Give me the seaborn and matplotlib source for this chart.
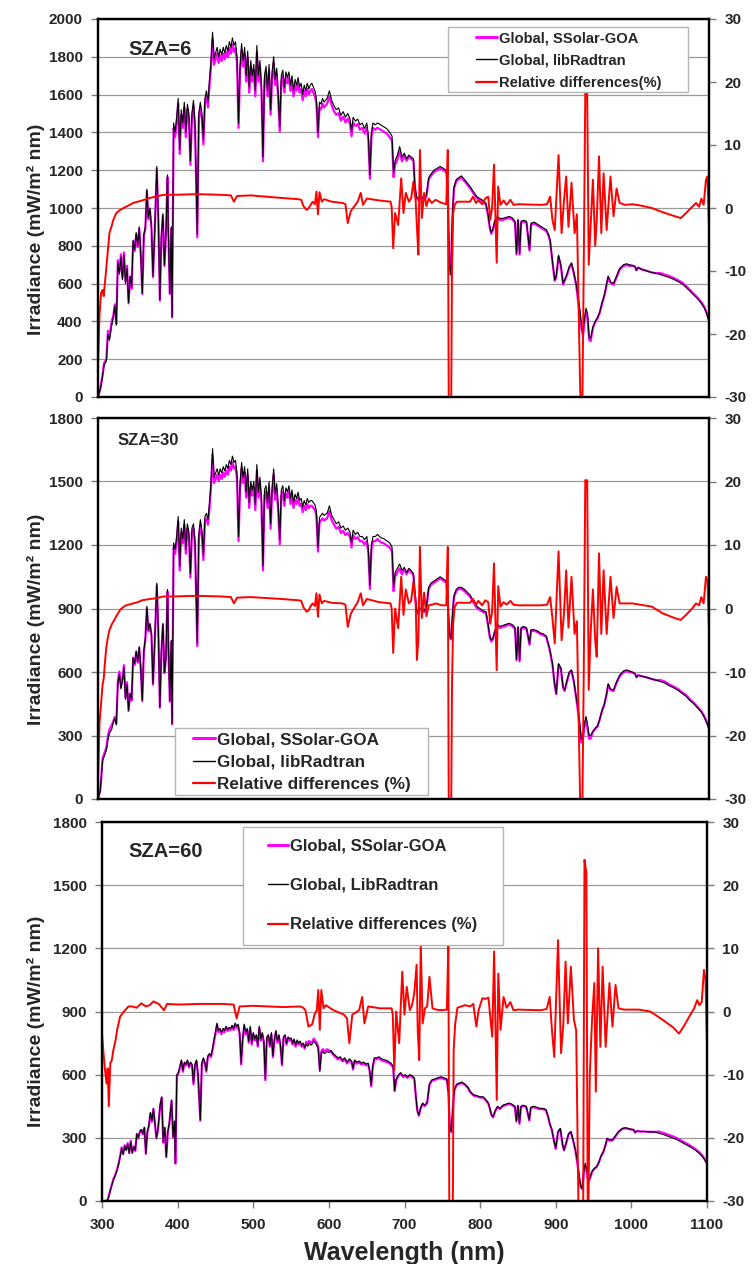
import numpy as np
import pandas as pd
import matplotlib
matplotlib.use("Agg")
import matplotlib.pyplot as plt
from matplotlib.lines import Line2D
from matplotlib.patches import Rectangle
import seaborn as sns

sns.set_style("white")
plt.rcParams["font.family"] = ["Liberation Sans", "DejaVu Sans"]
plt.rcParams["font.weight"] = "bold"
plt.rcParams["axes.unicode_minus"] = False

# ---------------- spectral grid for irradiance (nm) ----------------
wavelength = [
    300, 303, 306, 308, 311, 313, 315, 318, 320, 322,
    324, 326, 328, 330, 332, 334, 336, 338, 340, 342,
    344, 346, 348, 350, 352, 354, 356, 358, 360, 362,
    364, 366, 368, 370, 372, 374, 377, 379, 381, 383,
    385, 387, 389, 391, 392, 394, 396, 397, 399, 401,
    403, 405, 407, 409, 411, 413, 415, 417, 419, 421,
    423, 425, 427, 430, 432, 434, 436, 438, 440, 442,
    444, 446, 448, 450, 452, 454, 456, 458, 460, 462,
    464, 466, 468, 470, 472, 474, 476, 478, 480, 482,
    484, 486, 488, 490, 492, 494, 496, 498, 500, 502,
    504, 506, 508, 510, 512, 514, 516, 518, 520, 522,
    524, 526, 528, 530, 532, 534, 536, 538, 540, 542,
    544, 546, 548, 550, 552, 554, 556, 558, 560, 562,
    564, 566, 568, 570, 572, 574, 576, 578, 580, 582,
    584, 586, 588, 590, 592, 594, 596, 598, 600, 603,
    606, 609, 612, 615, 618, 621, 624, 627, 630, 632,
    634, 637, 640, 643, 646, 649, 652, 654, 656, 658,
    660, 663, 666, 670, 674, 678, 682, 685, 687, 689,
    692, 695, 698, 701, 704, 707, 710, 713, 715, 717,
    719, 721, 724, 727, 730, 733, 736, 740, 744, 748,
    752, 756, 758, 760, 762, 764, 766, 769, 772, 776,
    780, 784, 787, 791, 796, 800, 804, 808, 811, 813,
    815, 817, 820, 823, 826, 830, 834, 838, 842, 846,
    848, 850, 852, 854, 857, 861, 865, 867, 871, 875,
    879, 883, 887, 890, 892, 895, 898, 900, 903, 906,
    909, 911, 914, 917, 920, 923, 926, 929, 931, 933,
    935, 937, 939, 941, 943, 945, 948, 951, 954, 957,
    960, 963, 966, 968, 971, 975, 979, 983, 988, 992,
    996, 1000, 1003, 1005, 1007, 1012, 1018, 1024, 1030, 1036,
    1042, 1048, 1054, 1060, 1066, 1070, 1075, 1080, 1085, 1090,
    1094, 1097, 1100,
]

# ---------------- SZA = 6 ----------------
librad_sza6 = [
    0, 40, 110, 170, 190, 330, 300, 380, 420, 480,
    380, 710, 650, 740, 620, 750, 600, 680, 500, 640,
    580, 830, 780, 870, 800, 900, 760, 550, 860, 900,
    1100, 950, 1000, 900, 640, 850, 1220, 950, 515, 850,
    970, 700, 870, 1175, 900, 550, 900, 425, 1450, 1400,
    1480, 1580, 1310, 1520, 1450, 1560, 1400, 1550, 1500, 1250,
    1500, 1570, 1450, 860, 1500, 1560, 1500, 1360, 1580, 1620,
    1560, 1680, 1780, 1930, 1790, 1820, 1850, 1800, 1840, 1810,
    1850, 1820, 1860, 1830, 1880, 1850, 1900, 1860, 1880, 1800,
    1450, 1750, 1870, 1780, 1850, 1700, 1830, 1640, 1780, 1700,
    1760, 1620, 1860, 1700, 1780, 1650, 1270, 1700, 1750, 1620,
    1760, 1520, 1720, 1800, 1680, 1740, 1600, 1430, 1700, 1730,
    1640, 1720, 1690, 1720, 1650, 1700, 1620, 1680, 1650, 1690,
    1640, 1660, 1600, 1650, 1620, 1660, 1630, 1650, 1660, 1640,
    1620, 1580, 1400, 1560, 1550, 1580, 1560, 1570, 1580, 1620,
    1570, 1540, 1520, 1530, 1490, 1510, 1480, 1500, 1470, 1405,
    1480, 1460, 1470, 1440, 1450, 1420, 1450, 1380, 1175, 1400,
    1450, 1440, 1450, 1440, 1430, 1420, 1400, 1380, 1185, 1250,
    1280, 1325, 1270, 1290, 1260, 1280, 1270, 1260, 1115, 1060,
    1050, 1060, 1060, 1050, 1070, 1160, 1180, 1200, 1210, 1220,
    1210, 1200, 1100, 700, 650, 950, 1110, 1150, 1160, 1170,
    1150, 1130, 1115, 1090, 1060, 1050, 1040, 1025, 960, 900,
    870, 890, 940, 955, 945, 945, 950, 955, 950, 930,
    760, 940, 760, 930, 935, 930, 780, 920, 925, 915,
    905, 895, 885, 860, 830, 720, 620, 640, 750, 700,
    600, 620, 650, 690, 710, 660, 600, 520, 460, 380,
    340, 420, 470, 440, 320, 310, 370, 400, 420, 450,
    500, 540, 600, 640, 610, 600, 640, 680, 700, 705,
    700, 695, 690, 670, 685, 675, 668, 660, 655, 648,
    640, 632, 622, 610, 595, 580, 560, 540, 520, 495,
    470, 440, 400,
]
ssolar_sza6 = [
    0, 42, 117, 180, 201, 350, 318, 403, 428, 490,
    388, 724, 663, 755, 632, 765, 612, 694, 495, 634,
    574, 822, 772, 861, 792, 891, 752, 545, 851, 891,
    1089, 941, 990, 891, 634, 842, 1208, 941, 510, 842,
    960, 693, 861, 1163, 891, 545, 891, 421, 1424, 1375,
    1453, 1552, 1286, 1493, 1424, 1532, 1375, 1522, 1473, 1228,
    1473, 1542, 1424, 845, 1473, 1532, 1473, 1336, 1552, 1591,
    1532, 1650, 1748, 1895, 1758, 1787, 1817, 1768, 1807, 1777,
    1817, 1787, 1826, 1797, 1846, 1817, 1866, 1826, 1846, 1768,
    1424, 1719, 1836, 1748, 1817, 1669, 1797, 1610, 1748, 1669,
    1728, 1591, 1826, 1669, 1748, 1620, 1247, 1669, 1719, 1591,
    1728, 1493, 1689, 1768, 1650, 1709, 1571, 1404, 1669, 1699,
    1610, 1689, 1660, 1689, 1620, 1669, 1591, 1650, 1620, 1660,
    1610, 1630, 1571, 1620, 1591, 1630, 1601, 1620, 1630, 1610,
    1591, 1552, 1375, 1532, 1522, 1552, 1532, 1542, 1552, 1591,
    1542, 1512, 1493, 1502, 1463, 1483, 1453, 1473, 1444, 1380,
    1453, 1434, 1444, 1414, 1424, 1394, 1424, 1355, 1154, 1375,
    1424, 1414, 1424, 1414, 1404, 1394, 1375, 1355, 1164, 1228,
    1257, 1301, 1247, 1280, 1250, 1270, 1260, 1250, 1106, 1052,
    1042, 1052, 1052, 1042, 1061, 1151, 1171, 1190, 1200, 1210,
    1200, 1190, 1091, 694, 645, 942, 1101, 1141, 1151, 1161,
    1141, 1121, 1106, 1081, 1052, 1042, 1032, 1017, 952, 893,
    863, 883, 932, 947, 937, 937, 942, 947, 942, 923,
    754, 932, 754, 923, 928, 923, 774, 913, 918, 908,
    898, 888, 878, 853, 823, 714, 615, 634, 743, 693,
    594, 614, 644, 683, 703, 653, 594, 494, 437, 361,
    323, 399, 447, 418, 304, 295, 366, 396, 416, 446,
    495, 535, 594, 634, 604, 594, 634, 673, 693, 698,
    693, 695, 690, 670, 685, 675, 668, 660, 655, 656,
    648, 640, 629, 617, 602, 587, 567, 546, 526, 501,
    476, 445, 405,
]

# ---------------- SZA = 30 ----------------
librad_sza30 = [
    0, 40, 180, 200, 230, 280, 310, 330, 360, 380,
    350, 545, 590, 520, 560, 620, 470, 540, 420, 500,
    470, 670, 640, 700, 650, 720, 620, 467, 700, 760,
    910, 800, 830, 780, 545, 720, 1020, 800, 435, 700,
    830, 600, 670, 990, 760, 465, 750, 357, 1210, 1180,
    1240, 1335, 1100, 1280, 1230, 1320, 1180, 1300, 1260, 1065,
    1280, 1300, 1220, 735, 1250, 1320, 1270, 1150, 1335, 1350,
    1320, 1400, 1500, 1655, 1520, 1540, 1560, 1530, 1560, 1540,
    1570, 1550, 1580, 1560, 1600, 1580, 1620, 1590, 1600, 1540,
    1240, 1490, 1590, 1520, 1570, 1450, 1560, 1400, 1500, 1460,
    1500, 1390, 1580, 1450, 1520, 1420, 1100, 1460, 1480, 1400,
    1500, 1300, 1470, 1560, 1440, 1490, 1380, 1225, 1460, 1480,
    1410, 1470, 1450, 1480, 1420, 1460, 1400, 1440, 1420, 1450,
    1410, 1420, 1380, 1410, 1390, 1420, 1400, 1410, 1410, 1400,
    1390, 1360, 1190, 1330, 1340, 1350, 1340, 1345, 1350, 1385,
    1340, 1320, 1300, 1310, 1280, 1290, 1270, 1280, 1260, 1210,
    1270, 1250, 1260, 1240, 1240, 1225, 1240, 1180, 1010, 1200,
    1240, 1240, 1250, 1235, 1230, 1220, 1210, 1190, 1000, 1070,
    1090, 1110, 1080, 1095, 1070, 1090, 1080, 1065, 970, 900,
    880, 900, 905, 890, 910, 1000, 1020, 1030, 1040, 1050,
    1040, 1030, 950, 780, 760, 860, 960, 990, 1000, 1000,
    990, 975, 965, 940, 910, 900, 890, 885, 820, 770,
    750, 760, 800, 825, 815, 820, 825, 830, 825, 810,
    660, 815, 655, 810, 815, 810, 735, 800, 800, 795,
    785, 780, 770, 730, 700, 640, 540, 500, 640, 620,
    530, 515, 560, 600, 610, 560, 485, 420, 350, 280,
    300, 360, 390, 350, 300, 300, 320, 335, 345, 380,
    420, 450, 500, 545, 520, 515, 555, 585, 605, 610,
    605, 598, 592, 575, 585, 580, 575, 568, 562, 555,
    548, 535, 525, 512, 495, 485, 465, 450, 430, 410,
    385, 360, 330,
]
ssolar_sza30 = [
    0, 42, 191, 212, 244, 297, 329, 350, 367, 388,
    357, 556, 602, 530, 571, 632, 479, 551, 416, 495,
    465, 663, 634, 693, 644, 713, 614, 462, 693, 752,
    901, 792, 822, 772, 540, 713, 1010, 792, 431, 693,
    822, 594, 663, 980, 752, 460, 743, 353, 1188, 1159,
    1218, 1311, 1080, 1257, 1208, 1296, 1159, 1277, 1237, 1046,
    1257, 1277, 1198, 722, 1228, 1296, 1247, 1129, 1311, 1326,
    1296, 1375, 1473, 1625, 1493, 1512, 1532, 1502, 1532, 1512,
    1542, 1522, 1552, 1532, 1571, 1552, 1591, 1561, 1571, 1512,
    1218, 1463, 1561, 1493, 1542, 1424, 1532, 1375, 1473, 1434,
    1473, 1365, 1552, 1424, 1493, 1394, 1080, 1434, 1453, 1375,
    1473, 1277, 1444, 1532, 1414, 1463, 1355, 1203, 1434, 1453,
    1385, 1444, 1424, 1453, 1394, 1434, 1375, 1414, 1394, 1424,
    1385, 1394, 1355, 1385, 1365, 1394, 1375, 1385, 1385, 1375,
    1365, 1336, 1169, 1306, 1316, 1326, 1316, 1321, 1326, 1360,
    1316, 1296, 1277, 1286, 1257, 1267, 1247, 1257, 1237, 1188,
    1247, 1228, 1237, 1218, 1218, 1203, 1218, 1159, 992, 1178,
    1218, 1218, 1228, 1213, 1208, 1198, 1188, 1169, 982, 1051,
    1070, 1090, 1061, 1086, 1061, 1081, 1071, 1056, 962, 893,
    873, 893, 898, 883, 903, 992, 1012, 1022, 1032, 1042,
    1032, 1022, 942, 774, 754, 853, 952, 982, 992, 992,
    982, 967, 957, 932, 903, 893, 883, 878, 813, 764,
    744, 754, 794, 818, 808, 813, 818, 823, 818, 804,
    655, 808, 650, 804, 808, 804, 729, 794, 794, 789,
    779, 774, 764, 724, 694, 635, 536, 495, 634, 614,
    525, 510, 554, 594, 604, 554, 480, 399, 333, 266,
    285, 342, 371, 333, 285, 285, 317, 332, 342, 376,
    416, 446, 495, 540, 515, 510, 549, 579, 599, 604,
    599, 598, 592, 575, 585, 580, 575, 568, 562, 562,
    555, 541, 531, 518, 501, 491, 471, 455, 435, 415,
    390, 364, 334,
]

# ---------------- SZA = 60 ----------------
librad_sza60 = [
    0, 0, 0, 10, 50, 75, 100, 125, 147, 175,
    210, 250, 220, 260, 240, 270, 225, 280, 230, 260,
    240, 320, 300, 330, 340, 320, 350, 226, 330, 360,
    420, 380, 440, 370, 300, 340, 460, 495, 280, 350,
    210, 330, 370, 440, 480, 305, 380, 180, 600, 610,
    640, 670, 620, 660, 650, 670, 640, 660, 650, 560,
    650, 670, 600, 385, 655, 680, 660, 620, 690, 700,
    690, 720, 765, 800, 845, 810, 820, 800, 820, 810,
    830, 815, 825, 820, 835, 820, 845, 830, 840, 800,
    655, 770, 840, 800, 820, 760, 830, 750, 800, 770,
    790, 740, 830, 770, 800, 760, 580, 780, 790, 740,
    800, 690, 770, 810, 760, 790, 740, 650, 780, 790,
    750, 780, 770, 775, 750, 770, 740, 765, 750, 760,
    740, 750, 730, 745, 735, 750, 740, 745, 760, 750,
    740, 720, 615, 700, 710, 700, 705, 710, 705, 715,
    700, 690, 680, 685, 670, 680, 660, 675, 665, 630,
    670, 660, 665, 655, 660, 650, 655, 620, 550, 640,
    680, 680, 685, 675, 670, 665, 655, 640, 527, 580,
    600, 610, 595, 600, 590, 600, 595, 585, 500, 430,
    408, 440, 465, 455, 470, 555, 575, 580, 585, 590,
    585, 580, 520, 350, 330, 450, 530, 555, 560, 565,
    555, 540, 520, 505, 500, 495, 495, 480, 465, 440,
    410, 400, 430, 450, 440, 455, 460, 465, 460, 450,
    380, 455, 370, 450, 455, 450, 385, 445, 450, 445,
    440, 440, 435, 400, 370, 337, 280, 250, 330, 345,
    270, 242, 280, 320, 330, 290, 242, 180, 120, 70,
    60, 140, 180, 150, 100, 110, 140, 155, 163, 185,
    215, 235, 270, 298, 290, 290, 310, 330, 345, 348,
    345, 340, 338, 325, 332, 330, 330, 328, 328, 322,
    316, 308, 300, 292, 280, 272, 262, 252, 240, 225,
    210, 195, 175,
]
ssolar_sza60 = [
    0, 0, 0, 10, 52, 77, 103, 129, 150, 179,
    214, 255, 224, 265, 245, 275, 230, 286, 228, 257,
    238, 317, 297, 327, 337, 317, 347, 224, 327, 356,
    416, 376, 436, 366, 297, 337, 455, 490, 277, 347,
    208, 327, 366, 436, 475, 302, 376, 178, 594, 604,
    634, 663, 614, 653, 644, 663, 634, 653, 644, 554,
    644, 663, 594, 381, 648, 673, 653, 614, 683, 693,
    683, 713, 757, 792, 837, 802, 812, 792, 812, 802,
    822, 807, 817, 812, 827, 812, 837, 822, 832, 792,
    648, 762, 832, 792, 812, 752, 822, 743, 792, 762,
    782, 733, 822, 762, 792, 752, 574, 772, 782, 733,
    792, 683, 762, 802, 752, 782, 733, 644, 772, 782,
    743, 772, 762, 767, 743, 762, 733, 757, 743, 752,
    733, 743, 723, 756, 746, 761, 751, 756, 771, 761,
    751, 731, 624, 711, 721, 711, 716, 721, 716, 708,
    693, 683, 673, 678, 663, 673, 653, 668, 658, 624,
    663, 653, 658, 648, 653, 644, 648, 614, 545, 634,
    673, 673, 678, 668, 663, 658, 648, 634, 522, 574,
    594, 604, 589, 595, 585, 595, 590, 580, 496, 427,
    405, 436, 461, 451, 466, 551, 570, 575, 580, 585,
    580, 575, 516, 347, 327, 446, 526, 551, 556, 560,
    551, 536, 516, 501, 496, 491, 491, 476, 461, 436,
    407, 397, 427, 446, 436, 451, 456, 461, 456, 446,
    377, 451, 367, 446, 451, 446, 382, 441, 446, 441,
    436, 436, 432, 397, 367, 334, 278, 248, 327, 342,
    267, 240, 277, 317, 327, 287, 240, 167, 112, 65,
    56, 130, 167, 140, 93, 102, 139, 153, 161, 183,
    213, 233, 267, 295, 287, 287, 307, 327, 342, 345,
    342, 340, 338, 325, 332, 330, 330, 328, 328, 330,
    324, 316, 308, 299, 287, 279, 269, 258, 246, 231,
    215, 200, 179,
]

# ---------------- relative differences (%) ----------------
wavelength_rd = [
    300, 302, 304, 306, 307.5, 309, 311, 313, 315, 318,
    320, 324, 329, 335, 340, 346, 352, 358, 363, 368,
    375, 382, 386, 400, 430, 460, 474, 478, 482, 500,
    540, 562, 566, 569, 573, 576, 578, 581, 584, 586,
    588, 590, 593, 596, 606, 620, 624, 627, 631, 640,
    644, 647, 652, 668, 683, 684.5, 686.5, 689, 693, 697,
    700, 703, 707, 710, 713, 716, 717.5, 719.5, 721.5, 724,
    727, 730, 733, 737, 742, 750, 756, 758, 759.5, 762,
    763.5, 765, 767, 770, 780, 787, 791, 795, 798, 803,
    807, 811, 813.5, 816, 818.5, 822, 824, 827, 831, 835,
    840, 844, 850, 880, 888, 892, 895, 898, 903, 907,
    910, 913, 916, 920, 924, 927, 931, 933.5, 936, 938,
    940.5, 942.5, 945, 948, 951, 953, 956, 959, 962, 966,
    971, 975, 979, 983, 990, 1000, 1010, 1025, 1040, 1055,
    1063, 1070, 1078, 1083, 1087, 1090, 1093, 1096, 1098, 1100,
]
reldiff_sza6 = [
    -25, -17, -13.5, -13, -14, -12, -9.3, -6.5, -4, -2.8,
    -1.9, -0.8, -0.3, 0.1, 0.4, 0.8, 1.0, 1.2, 1.4, 1.6,
    1.8, 2.0, 2.1, 2.1, 2.2, 2.1, 2.0, 1.0, 1.9, 2.0,
    1.6, 1.4, 1.3, 0.3, -0.3, 0.0, 0.4, 1.0, 0.6, 2.6,
    -1.0, 2.5, 1.0, 1.4, 1.0, 0.8, 0.6, -2.4, -0.5, 1.0,
    2.4, 0.5, 1.5, 1.2, 1.0, 0.2, -6.4, -0.8, -2.7, 4.7,
    -0.8, 2.4, 1.0, 1.5, 4.2, 1.0, -2.9, -7.4, 9.2, -1.6,
    2.4, 0.3, 1.5, 0.8, 1.3, 0.8, 0.6, 9.2, -40, -40,
    -10, -0.8, 0.5, 1.0, 1.0, 1.0, 1.8, 0.8, 1.2, 0.6,
    1.5, 1.8, -1.9, 0.0, 6.9, -8.7, 3.4, 0.5, 1.2, 0.5,
    1.3, 0.5, 0.6, 0.5, 0.6, 1.8, -1.9, -3.5, 8.4, -4.0,
    1.0, 5.0, -3.0, 4.0, -4.0, -1.0, -26.7, -40, -9, 18.2,
    18.2, -9, -3, 4.5, -6.0, -2, 8.2, -4.0, 5.5, -3.5,
    5.0, -1.3, 3.1, 0.8, 0.5, 0.6, 0.4, 0.0, -0.7, -1.3,
    -1.6, -0.8, 0.2, 0.8, 0.2, 1.5, 0.5, 4.5, 5.0, -3.0,
]
reldiff_sza30 = [
    -27, -18, -15, -12, -11, -8.6, -6, -4.5, -3.4, -2.5,
    -2.1, -1.2, -0.2, 0.4, 0.6, 0.8, 1.0, 1.3, 1.4, 1.5,
    1.6, 1.8, 1.9, 1.9, 2.0, 1.9, 1.8, 0.8, 1.7, 1.8,
    1.5, 1.3, 1.2, 0.2, -0.5, -0.3, 0.3, 0.8, 0.4, 2.4,
    -1.3, 2.2, 0.8, 1.2, 0.9, 0.8, 0.6, -2.9, -0.8, 1.0,
    2.4, 0.5, 1.5, 1.0, 0.8, 0.0, -7.0, 0.0, -3.1, 5.0,
    -1.0, 3.0, 0.8, 1.2, 4.2, 1.0, -8.1, -5, 9.7, -1.5,
    2.5, -1.2, 0.5, 0.6, 0.8, 0.5, 0.5, 9.7, -40, -40,
    -12, -2.3, 0.2, 0.9, 0.9, 0.9, 1.5, 0.6, 1.2, 0.5,
    1.3, 1.0, -2.4, -0.5, 7.1, -9.7, 3.5, 0.3, 1.0, 0.6,
    1.2, 0.6, 0.5, 0.5, 0.6, 1.8, -1.5, -5.5, 9.0, -5.0,
    -1.0, 6.0, -3.0, 5.0, -4.0, -2.0, -28.6, -40, -10, 20.2,
    20.2, -12.8, -4, 3.0, -5.0, -7.6, 8.7, -4.0, 6.0, -4.0,
    5.0, -1.5, 3.4, 0.8, 0.8, 0.8, 0.6, 0.3, -0.8, -1.5,
    -1.8, -1.0, 0.0, 0.8, 0.5, 1.8, 0.8, 5.0, 4.5, -3.4,
]
reldiff_sza60 = [
    -3.5, -6.6, -9.3, -11.4, -9, -15, -8.2, -7.7, -6.1, -4.5,
    -2.9, -0.8, 0, 0.8, 0.8, 0.6, 1.3, 0.8, 1.0, 1.6,
    1.2, 0.2, 1.2, 1.1, 1.2, 1.2, 1.1, -1.1, 0.8, 0.9,
    0.7, 0.8, 0.6, 0.2, -2.4, -2.2, -2.0, -0.5, 0.2, 3.4,
    -2.9, 3.4, 0.5, 1.0, 0.2, -0.5, -1.1, -5.0, -0.5, 0.2,
    2.3, -1.9, 0.8, 0.5, 0.5, -0.5, -9.3, 0.0, -5.0, 6.3,
    -0.5, 3.9, 0.2, 1.0, 3.0, 7.4, -3.0, -7.7, 10.8, -1.9,
    0.5, 0.8, 5.5, 0.5, 0.3, 0.2, 0.3, 10.8, -40, -40,
    -40, -6.1, -2, 0.6, 1.0, 0.8, 1.2, -2.4, 0.2, 2.1,
    2.0, 2.2, -1.0, -4.0, 9.5, -14.0, 6.0, -2.9, 2.3, 0.6,
    1.5, 0.2, 0.3, 0.2, 0.4, 2.3, -3.0, -7.2, 11.3, -6.6,
    -2.0, 7.9, -1.9, 7.1, -1.3, -3.0, -40, -40, -40, 24,
    22, -40, -10, -1.3, 4.5, -12.7, 10.0, -5.6, 7.1, -5.6,
    4.5, -2.4, 4.2, 0.5, 0.3, 0.3, 0.3, 0.0, -1.2, -2.5,
    -3.5, -2.2, -0.5, 0.5, 1.8, 1.0, 1.5, 6.6, 5.0, -5.0,
]

MAGENTA = "#ff00ff"
RED = "#ff0000"
GRID = "#9a9a9a"
TICK = "#7a7a7a"
YLABEL = "Irradiance (mW/m\u00b2 nm)"

fig = plt.figure(figsize=(7.53, 12.64), dpi=100)


def draw_panel(rect, librad, ssolar, reldiff, ymax, ystep, sza, sza_xy, sza_size,
               labels, leg_anchor, leg_size, leg_handle, leg_spacing, box,
               ylabel_xy, bottom_axis):
    ax = fig.add_axes(rect)
    irr = pd.DataFrame({"Wavelength": wavelength, "SSolar": ssolar, "libRadtran": librad})
    sns.lineplot(data=irr, x="Wavelength", y="SSolar", ax=ax, color=MAGENTA,
                 linewidth=1.6, estimator=None, sort=False)
    sns.lineplot(data=irr, x="Wavelength", y="libRadtran", ax=ax, color="black",
                 linewidth=0.8, estimator=None, sort=False)
    ax.set_xlim(300, 1100)
    ax.set_ylim(0, ymax)
    ax.set_yticks(np.arange(0, ymax + 1, ystep))
    ax.grid(axis="y", color=GRID, linewidth=0.9)
    ax.grid(axis="x", visible=False)
    ax.set_axisbelow(True)
    ax.tick_params(axis="y", left=True, direction="out", length=5, width=1,
                   color=TICK, pad=6, labelsize=11)
    ax.set_ylabel(YLABEL, fontsize=14, fontweight="bold")
    ax.yaxis.set_label_coords(*ylabel_xy)
    if bottom_axis:
        ax.set_xticks(range(300, 1101, 100))
        ax.tick_params(axis="x", bottom=True, direction="out", length=5, width=1,
                       color=TICK, pad=7, labelsize=11)
        ax.set_xlabel("Wavelength (nm)", fontsize=18, fontweight="bold", labelpad=7)
    else:
        ax.tick_params(axis="x", bottom=False, labelbottom=False)
        ax.set_xlabel("")

    ax2 = ax.twinx()
    rd = pd.DataFrame({"Wavelength": wavelength_rd, "Relative": reldiff})
    sns.lineplot(data=rd, x="Wavelength", y="Relative", ax=ax2, color=RED,
                 linewidth=1.4, estimator=None, sort=False)
    ax2.set_ylim(-30, 30)
    ax2.set_yticks(range(-30, 31, 10))
    ax2.set_ylabel("")
    ax2.tick_params(axis="y", right=True, direction="out", length=5, width=1,
                    color=TICK, pad=6, labelsize=11)
    ax2.set_xlim(300, 1100)

    for a in (ax, ax2):
        for s in a.spines.values():
            s.set_color("black")
            s.set_linewidth(1.6)

    ax2.add_patch(Rectangle((box[0], box[1]), box[2], box[3], transform=ax2.transAxes,
                            facecolor="white", edgecolor="#b4b4b4", linewidth=1.0,
                            zorder=4))
    handles = [Line2D([], [], color=MAGENTA, linewidth=2.2),
               Line2D([], [], color="black", linewidth=1.0),
               Line2D([], [], color=RED, linewidth=1.6)]
    leg = ax2.legend(handles, labels, loc="upper left", bbox_to_anchor=leg_anchor,
                     frameon=False, borderpad=0, borderaxespad=0,
                     handlelength=leg_handle, handletextpad=0.1,
                     labelspacing=leg_spacing,
                     prop={"weight": "bold", "size": leg_size,
                           "family": ["Liberation Sans", "DejaVu Sans"]})
    leg.set_zorder(5)

    ax2.text(sza_xy[0], sza_xy[1], sza, transform=ax2.transAxes, ha="center",
             va="center", fontsize=sza_size, fontweight="bold", zorder=6)
    return ax, ax2


draw_panel([98 / 753, 1 - 397 / 1264, 611 / 753, 378 / 1264],
           librad_sza6, ssolar_sza6, reldiff_sza6, 2000, 200,
           "SZA=6", (0.1015, 0.918), 14.5,
           ["Global, SSolar-GOA", "Global, libRadtran", "Relative differences(%)"],
           (0.6187, 0.9675), 10.6, 1.43, 0.56,
           (0.573, 0.807, 0.393, 0.172), (-0.087, 0.443), False)

draw_panel([98 / 753, 1 - 799 / 1264, 611 / 753, 381 / 1264],
           librad_sza30, ssolar_sza30, reldiff_sza30, 1800, 300,
           "SZA=30", (0.083, 0.942), 12,
           ["Global, SSolar-GOA", "Global, libRadtran", "Relative differences (%)"],
           (0.1555, 0.175), 12.3, 1.3, 0.42,
           (0.126, 0.0105, 0.414, 0.176), (-0.087, 0.472), False)

draw_panel([102 / 753, 1 - 1201 / 1264, 605 / 753, 379 / 1264],
           librad_sza60, ssolar_sza60, reldiff_sza60, 1800, 300,
           "SZA=60", (0.106, 0.921), 14.5,
           ["Global, SSolar-GOA", "Global, LibRadtran", "Relative differences (%)"],
           (0.2744, 0.9565), 12, 1.2, 1.47,
           (0.233, 0.675, 0.430, 0.311), (-0.094, 0.475), True)

fig.savefig("out.png", dpi=100, facecolor="white")
